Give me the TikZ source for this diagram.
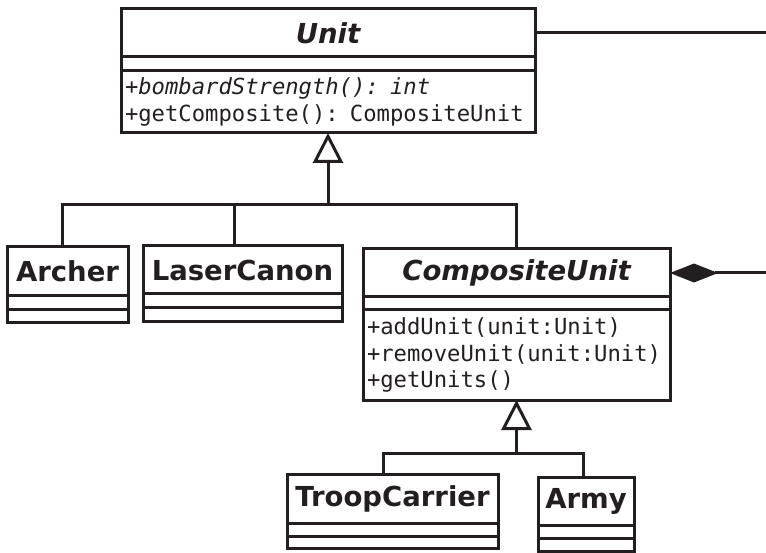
\documentclass[tikz,border=0pt]{standalone}
\usepackage{fontspec}
\setmainfont{DejaVu Sans}
\newfontfamily\umlmono{DejaVu Sans Mono}
\usetikzlibrary{arrows.meta}
\definecolor{ink}{RGB}{35,31,32}

\tikzset{
  uml/.style={draw=ink, line width=3pt, outer sep=0pt, inner sep=0pt, rectangle, anchor=north west},
  umltitle/.style={uml, text=ink, font=\fontsize{27.5}{31}\selectfont\bfseries},
  umlslot/.style={uml, anchor=north},
  umlops/.style={uml, anchor=north, text=ink, align=left, inner xsep=4pt,
    font=\fontsize{22.2}{26.5}\selectfont\umlmono},
  link/.style={draw=ink, line width=3pt},
  inherit/.style={link, -{Triangle[open, length=30pt, width=30pt, line width=3pt]}},
  compos/.style={link, {Diamond[length=48pt, width=19pt, line width=0pt]}-},
}

\begin{document}
\begin{tikzpicture}[x=1pt, y=-1pt]
\useasboundingbox (0,0) rectangle (766,553);
\fill[white] (0,0) rectangle (766,553);

% Unit
\node[umltitle, minimum width=414pt, minimum height=48pt] (unit) at (121,9) {\itshape Unit};
\node[umlslot, minimum width=414pt, minimum height=14pt] (unitattr) at (unit.south) {};
\node[umlops, minimum width=414pt, minimum height=62pt, text width=406pt] (unitops) at (unitattr.south)
  {\textit{+bombardStrength(): int}\\+getComposite(): CompositeUnit};

% Archer
\node[umltitle, minimum width=121pt, minimum height=49pt] (archer) at (7,247) {Archer};
\node[umlslot, minimum width=121pt, minimum height=14pt] (archerattr) at (archer.south) {};
\node[umlslot, minimum width=121pt, minimum height=13pt] (archerops) at (archerattr.south) {};

% LaserCanon
\node[umltitle, minimum width=199pt, minimum height=48pt] (laser) at (143,246) {LaserCanon};
\node[umlslot, minimum width=199pt, minimum height=14pt] (laserattr) at (laser.south) {};
\node[umlslot, minimum width=199pt, minimum height=14pt] (laserops) at (laserattr.south) {};

% CompositeUnit
\node[umltitle, minimum width=307pt, minimum height=48pt] (comp) at (363,249) {\itshape CompositeUnit};
\node[umlslot, minimum width=307pt, minimum height=13pt] (compattr) at (comp.south) {};
\node[umlops, minimum width=307pt, minimum height=90pt, text width=299pt] (compops) at (compattr.south)
  {+addUnit(unit:Unit)\\+removeUnit(unit:Unit)\\+getUnits()};

% TroopCarrier
\node[umltitle, minimum width=211pt, minimum height=49pt] (troop) at (287,474) {TroopCarrier};
\node[umlslot, minimum width=211pt, minimum height=13pt] (troopattr) at (troop.south) {};
\node[umlslot, minimum width=211pt, minimum height=12pt] (troopops) at (troopattr.south) {};

% Army
\node[umltitle, minimum width=96pt, minimum height=48pt] (army) at (538,477) {Army};
\node[umlslot, minimum width=96pt, minimum height=13pt] (armyattr) at (army.south) {};
\node[umlslot, minimum width=96pt, minimum height=13pt] (armyops) at (armyattr.south) {};

% generalisation into Unit
\coordinate (j1) at (328,205);
\draw[link] ([xshift=-5.5pt]archer.north) |- (j1);
\draw[link] ([xshift=-8.5pt]laser.north) |- (j1);
\draw[link] (comp.north) |- (j1);
\draw[inherit] (j1) -- (unitops.south);

% generalisation into CompositeUnit
\coordinate (j2) at (516.5,453);
\draw[link] ([xshift=-9.5pt]troop.north) |- (j2);
\draw[link] ([xshift=-3pt]army.north) |- (j2);
\draw[inherit] (j2) -- (compops.south);

% outgoing associations
\coordinate (uright) at (766,33);
\draw[link] (unit.east) -- (uright);
\coordinate (cright) at (766,273);
\draw[compos] (comp.east) -- (cright);
\end{tikzpicture}
\end{document}
